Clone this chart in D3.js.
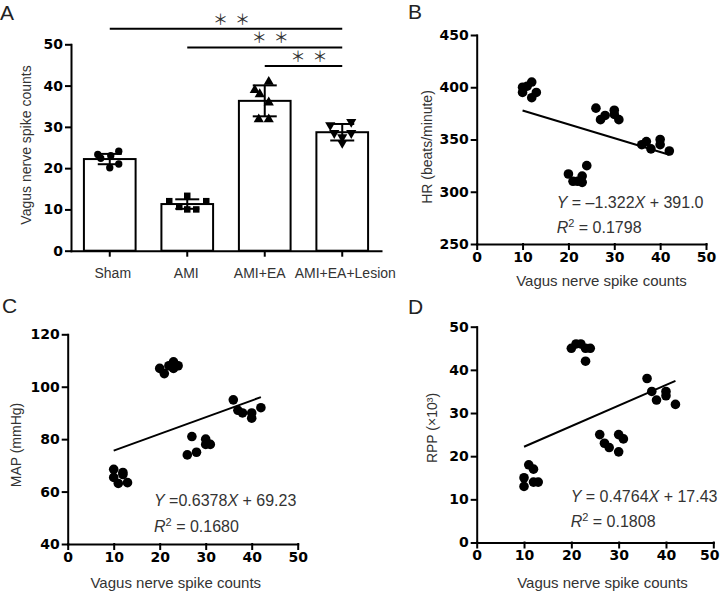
<!DOCTYPE html>
<html>
<head>
<meta charset="utf-8">
<script src="https://cdn.jsdelivr.net/npm/d3@7"></script>
<style>
  body { margin: 0; background: #fff; }
  svg { display: block; font-family: Arial, "Liberation Sans", sans-serif; }
  .axis path, .axis line { stroke: #000; stroke-width: 2; stroke-linecap: square; }
  .axis .tick text { font-family: "DejaVu Sans", sans-serif; font-size: 14px; font-weight: bold; fill: #000; }
  .axis.cat .tick text { font-family: Arial, "Liberation Sans", sans-serif; font-size: 14px; font-weight: normal; fill: #333; }
  .title { font-size: 15px; fill: #333; }
  .ytitle { font-size: 14px; fill: #333; }
  .letter { font-size: 21px; fill: #222; }
  .eq { font-size: 16px; fill: #333; }
</style>
</head>
<body>
<div id="chart"></div>
<script>
// ---- panel A: spike counts per group ----
const groups = ["Sham", "AMI", "AMI+EA", "AMI+EA+Lesion"];
const groupMeans = [22.2, 11.3, 36.3, 28.7];
const groupSD = [1.25, 1.15, 3.75, 2.0];
const shamCounts = [23.3, 22.4, 23.0, 24.1, 21.0, 20.1];
const amiCounts = [12.0, 13.3, 12.0, 10.6, 10.0, 10.0];
const eaCounts = [40.9, 38.9, 37.9, 35.9, 31.8, 31.8];
const lesionCounts = [30.4, 31.2, 28.5, 27.5, 28.5, 26.1];
const comparisons = [[0, 3], [1, 3], [2, 3]];
const compLabel = "＊＊";
const countTicks = [0, 10, 20, 30, 40, 50];

// ---- panels B-D: each animal, spike count vs haemodynamics ----
const spikeX = [10, 10, 11, 12, 12, 13, 20, 21, 22, 23, 23, 24, 26, 27, 28, 30, 30, 31, 36, 37, 38, 40, 40, 42];
const hrValues = [400, 395, 401, 405, 390, 395, 317, 310, 310, 315, 309, 325, 380, 369, 373, 378, 374, 369, 345, 348, 341, 350, 345, 339];
const mapValues = [68.5, 65.4, 63.1, 67.3, 66.5, 63.4, 107, 105, 108, 109.5, 107, 108, 74, 81, 75, 80, 78, 78, 95, 91, 90, 90, 88, 92];
const rppValues = [15, 13, 18, 17, 14, 14, 45, 46, 46, 45, 42, 45, 25, 23, 22, 25, 21, 24, 38, 35, 33, 35, 34, 32];
const xTicks = [0, 10, 20, 30, 40, 50];
const hrTicks = [250, 300, 350, 400, 450];
const mapTicks = [40, 60, 80, 100, 120];
const rppTicks = [0, 10, 20, 30, 40, 50];
// fitted lines as printed on the figure
const hrFit = { slope: -1.322, intercept: 391.0, eq: ["Y", " = \u20131.322", "X", " + 391.0"], r2: "0.1798" };
const mapFit = { slope: 0.6378, intercept: 69.23, eq: ["Y", " =0.6378", "X", " + 69.23"], r2: "0.1680" };
const rppFit = { slope: 0.4764, intercept: 17.43, eq: ["Y", " = 0.4764", "X", " + 17.43"], r2: "0.1808" };

const svg = d3.select("#chart").append("svg")
    .attr("width", 721)
    .attr("height", 593);

// panel letters
[["A", 0, 20], ["B", 408, 19], ["C", 2, 313], ["D", 408, 314]].forEach(d => {
    svg.append("text").attr("class", "letter").attr("x", d[1]).attr("y", d[2]).text(d[0]);
});

// ================= Panel A =================
const xA = d3.scaleBand()
    .domain(groups)
    .range([71, 381])
    .paddingInner(0.333)
    .paddingOuter(0.1667);
const yA = d3.scaleLinear().domain([0, 50]).range([250.7, 44.3]);

const labelShift = [3, -1, -5, 3];
svg.append("g")
    .attr("class", "axis cat")
    .attr("transform", "translate(0,250.7)")
    .call(d3.axisBottom(xA).tickSize(5).tickSizeOuter(0).tickPadding(12))
    .selectAll(".tick text")
    .attr("dx", (d, i) => labelShift[i]);

svg.append("g")
    .attr("class", "axis")
    .attr("transform", "translate(71,0)")
    .call(d3.axisLeft(yA).tickValues(countTicks).tickSize(5).tickSizeOuter(0).tickPadding(3));

svg.append("text")
    .attr("class", "ytitle")
    .attr("transform", "translate(26,145) rotate(-90)")
    .attr("text-anchor", "middle")
    .attr("dy", "0.35em")
    .text("Vagus nerve spike counts");

// bars
svg.selectAll(".bar")
    .data(groups)
    .enter().append("rect")
    .attr("class", "bar")
    .attr("x", d => xA(d))
    .attr("width", xA.bandwidth())
    .attr("y", (d, i) => yA(groupMeans[i]))
    .attr("height", (d, i) => yA(0) - yA(groupMeans[i]))
    .attr("fill", "#fff")
    .attr("stroke", "#000")
    .attr("stroke-width", 2);

// individual animals
const allCounts = [shamCounts, amiCounts, eaCounts, lesionCounts];
const symbols = [d3.symbolCircle, d3.symbolSquare, d3.symbolTriangle, d3.symbolTriangle];
const symSize = [42, 42, 45, 45];
const dotOffsets = [
    [-12, -9, 1, 9, 9, 0],
    [-18, 0, 19, -8, 0, 9],
    [4, -10, -5, 4, -6, 4],
    [-12, 9, -8, 0, 9, 0]
];
allCounts.forEach((vals, g) => {
    const cx = xA(groups[g]) + xA.bandwidth() / 2;
    svg.append("g").selectAll("path")
        .data(vals)
        .enter().append("path")
        .attr("d", d3.symbol().type(symbols[g]).size(symSize[g]))
        .attr("transform", (d, i) => `translate(${cx + dotOffsets[g][i]},${yA(d)})` + (g === 3 ? " rotate(180)" : ""))
        .attr("fill", "#000");
});

// mean +/- SD
groups.forEach((g, i) => {
    const cx = xA(g) + xA.bandwidth() / 2;
    const top = yA(groupMeans[i] + groupSD[i]);
    const bot = yA(groupMeans[i] - groupSD[i]);
    const eb = svg.append("g").attr("stroke", "#000").attr("stroke-width", 2);
    eb.append("line").attr("x1", cx).attr("x2", cx).attr("y1", top).attr("y2", bot);
    eb.append("line").attr("x1", cx - 12).attr("x2", cx + 12).attr("y1", top).attr("y2", top);
    eb.append("line").attr("x1", cx - 12).attr("x2", cx + 12).attr("y1", bot).attr("y2", bot);
});

// significance brackets
comparisons.forEach((c, k) => {
    const x1 = xA(groups[c[0]]) + xA.bandwidth() / 2;
    const x2 = xA(groups[c[1]]) + xA.bandwidth() / 2;
    const ly = 28.7 + k * 18.7;
    svg.append("line")
        .attr("x1", x1).attr("x2", x2)
        .attr("y1", ly).attr("y2", ly)
        .attr("stroke", "#000").attr("stroke-width", 2);
    svg.append("text")
        .attr("x", (x1 + x2) / 2 + 9)
        .attr("y", ly - 4)
        .attr("text-anchor", "middle")
        .style("font-family", "'Noto Sans CJK SC'")
        .style("font-size", "15px")
        .style("letter-spacing", "7px")
        .attr("fill", "#333")
        .text(compLabel);
});

// ================= Panels B, C, D =================
function scatterPanel(cfg) {
    const x = d3.scaleLinear().domain([0, 50]).range(cfg.xr);
    const y = d3.scaleLinear().domain(cfg.yd).range(cfg.yr);

    const xAxis = svg.append("g")
        .attr("class", "axis")
        .attr("transform", `translate(0,${cfg.yr[0]})`)
        .call(d3.axisBottom(x).tickValues(xTicks).tickSize(5).tickSizeOuter(0).tickPadding(3));
    // keep the last label inside the page
    if (cfg.lastShift) {
        xAxis.selectAll(".tick text").filter(d => d === 50).attr("dx", cfg.lastShift);
    }

    svg.append("g")
        .attr("class", "axis")
        .attr("transform", `translate(${cfg.xr[0]},0)`)
        .call(d3.axisLeft(y).tickValues(cfg.ticks).tickSize(5).tickSizeOuter(0).tickPadding(3));

    svg.append("g").selectAll("circle")
        .data(spikeX.map((v, i) => [v, cfg.vals[i]]))
        .enter().append("circle")
        .attr("cx", d => x(d[0]))
        .attr("cy", d => y(d[1]))
        .attr("r", 4.8)
        .attr("fill", "#000");

    // regression line over the observed x range
    const ends = d3.extent(spikeX);
    svg.append("path")
        .datum(ends)
        .attr("d", d3.line().x(d => x(d)).y(d => y(cfg.fit.slope * d + cfg.fit.intercept)))
        .attr("stroke", "#000")
        .attr("stroke-width", 2)
        .attr("fill", "none");

    // axis titles
    svg.append("text")
        .attr("class", "title")
        .attr("x", cfg.xt[0]).attr("y", cfg.xt[1])
        .attr("text-anchor", "middle")
        .text("Vagus nerve spike counts");
    svg.append("text")
        .attr("class", "ytitle")
        .attr("transform", `translate(${cfg.yt[0]},${cfg.yt[1]}) rotate(-90)`)
        .attr("text-anchor", "middle")
        .attr("dy", "0.35em")
        .text(cfg.ylabel);

    // equation and R squared
    const eq = svg.append("text").attr("class", "eq").attr("x", cfg.eq[0]).attr("y", cfg.eq[1]);
    cfg.fit.eq.forEach((s, i) => {
        eq.append("tspan").style("font-style", i % 2 === 0 ? "italic" : "normal").text(s);
    });
    const r2 = svg.append("text").attr("class", "eq").attr("x", cfg.eq[0]).attr("y", cfg.eq[2]);
    r2.append("tspan").style("font-style", "italic").text("R");
    r2.append("tspan").style("font-size", "11px").attr("dy", -6).text("2");
    r2.append("tspan").attr("dy", 6).text(" = " + cfg.fit.r2);
}

scatterPanel({
    xr: [476.7, 706], yr: [244, 35], yd: [250, 450], ticks: hrTicks, vals: hrValues, fit: hrFit,
    xt: [601.5, 286], yt: [426.7, 147], ylabel: "HR (beats/minute)", eq: [556.7, 208.3, 233]
});
scatterPanel({
    xr: [67.7, 297.7], yr: [544, 334.3], yd: [40, 120], ticks: mapTicks, vals: mapValues, fit: mapFit,
    xt: [175.8, 587.5], yt: [15.7, 445], ylabel: "MAP (mmHg)", eq: [154, 506, 532]
});
scatterPanel({
    xr: [476.7, 713.3], yr: [542.5, 326.7], yd: [0, 50], ticks: rppTicks, vals: rppValues, fit: rppFit,
    xt: [602.5, 587.5], yt: [431.7, 428], ylabel: "RPP (×10³)", eq: [570.7, 501.7, 527], lastShift: -4
});
</script>
</body>
</html>
